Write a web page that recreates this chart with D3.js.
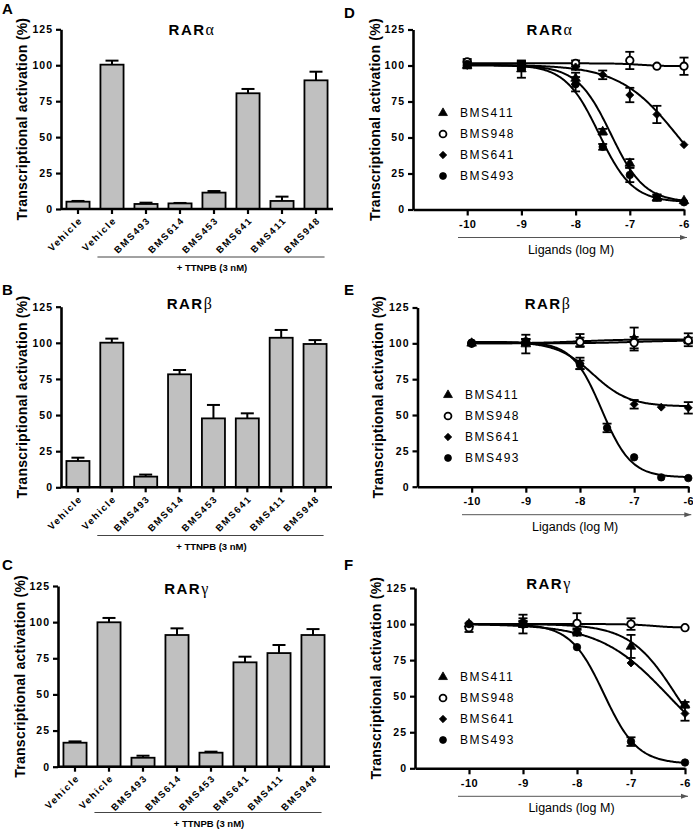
<!DOCTYPE html>
<html>
<head>
<meta charset="utf-8">
<script src="https://cdn.jsdelivr.net/npm/d3@7"></script>
<style>
  html, body { margin: 0; padding: 0; background: #fff; }
  svg { display: block; }
  text { font-family: "Liberation Sans", Arial, sans-serif; }
</style>
</head>
<body>
<svg id="chart" width="693" height="830"></svg>
<script>
// ---------------- DATA ----------------
const barCategories = ["Vehicle", "Vehicle", "BMS493", "BMS614", "BMS453", "BMS641", "BMS411", "BMS948"];
const barRARa    = [5.1, 100.4, 3.5, 3.9, 11.4, 80.5, 5.6, 89.5];
const barRARaErr = [0.5, 2.8, 0.9, 0.3, 1.1, 3.0, 3.0, 6.0];
const barRARb    = [18.2, 100.1, 7.4, 78.2, 47.7, 47.7, 103.5, 99.2];
const barRARbErr = [2.3, 2.8, 1.4, 3.0, 9.3, 3.5, 5.4, 2.7];
const barRARg    = [16.6, 99.9, 6.2, 91.1, 9.7, 72.2, 78.6, 91.1];
const barRARgErr = [0.9, 3.0, 1.4, 4.6, 0.7, 3.9, 5.6, 4.1];
const yTicks = [0, 25, 50, 75, 100, 125];
const treatmentLabel = "+ TTNPB (3 nM)";

const ligands = ["BMS411", "BMS948", "BMS641", "BMS493"];
const xTicksLog = [-10, -9, -8, -7, -6];

// RARα dose response
const doseA = [-10, -9, -8, -7.5, -7, -6.5, -6];
const respA_BMS411 = [100, 97.5, 91, 54, 32, 8, 6];
const errA_BMS411  = [2, 6, 4, 2, 3, 2, 1];
const respA_BMS948 = [102.5, 100.5, 101.5, null, 103.5, 99.5, 99.5];
const errA_BMS948  = [2, 2, 2, null, 6, 1, 6];
const respA_BMS641 = [100, 100, 99, 93.5, 79.5, 66, 45];
const errA_BMS641  = [1, 2, 2, 3, 5, 6, 1];
const respA_BMS493 = [101, 100, 87, 43.5, 24, 8.5, 5];
const errA_BMS493  = [2, 3, 5, 2, 5, 2, 1];

// RARβ dose response
const doseB = [-10, -9, -8, -7.5, -7, -6.5, -6];
const respB_BMS411 = [100, 99.5, 102, null, 103, null, 102.5];
const errB_BMS411  = [1, 6.5, 4.5, null, 8, null, 4.5];
const respB_BMS948 = [100, 101, 101, null, 100.5, null, 102];
const errB_BMS948  = [1, 2, 3, null, 4, null, 2];
const respB_BMS641 = [100, 101, 86, null, 57.5, 55.5, 55];
const errB_BMS641  = [1, 2, 4, null, 3, 1, 4];
const respB_BMS493 = [100.5, 101, 85, 41, 20.5, 6.5, 6];
const errB_BMS493  = [1, 2, 3, 3, 1, 1, 1];

// RARγ dose response
const doseG = [-10, -9, -8, -7, -6];
const respG_BMS411 = [100, 100, 95, 84.5, 44];
const errG_BMS411  = [1, 6.5, 2, 8, 2];
const respG_BMS948 = [97.5, 100, 100.5, 100, 97.5];
const errG_BMS948  = [3, 2, 7, 4, 1];
const respG_BMS641 = [100, 100, 94, 73, 38];
const errG_BMS641  = [1, 2, 2, 1, 5];
const respG_BMS493 = [100, 101, 84, 18.5, 4];
const errG_BMS493  = [1, 3, 1, 3, 1];

// fitted sigmoid parameters: [top, bottom, logIC50, hill]
const fitA = { BMS411: [100, 5, -7.35, 1.4], BMS948: [101.5, 99.5, -6.8, 2], BMS641: [100.5, 0, -6.1, 0.8], BMS493: [100.5, 5, -7.57, 1.4] };
const fitB = { BMS411: [100, 102.8, -8, 1], BMS948: [100, 102, -7, 1], BMS641: [101, 56, -7.76, 1.3], BMS493: [101, 6.5, -7.6, 1.6] };
const fitG = { BMS411: [100, 0, -6.15, 1], BMS948: [100, 97.5, -6.6, 2], BMS641: [100, 0, -6.3, 0.68], BMS493: [100, 3, -7.5, 1.4] };

// ---------------- DRAW ----------------
const svg = d3.select("#chart");
svg.append("rect").attr("width", 693).attr("height", 830).attr("fill", "#fff");

const defs = svg.append("defs");
defs.append("marker").attr("id", "arrow").attr("viewBox", "0 0 10 10")
  .attr("refX", 10).attr("refY", 5).attr("markerWidth", 7).attr("markerHeight", 7)
  .attr("markerUnits", "userSpaceOnUse").attr("orient", "auto")
  .append("path").attr("d", "M0,1.5 L10,5 L0,8.5 Z").attr("fill", "#555");

function panelLetter(t, x, y) {
  svg.append("text").attr("x", x).attr("y", y).text(t)
    .attr("font-size", 15).attr("font-weight", "bold");
}
function title(greek, cx, y) {
  const t = svg.append("text").attr("x", cx).attr("y", y).attr("text-anchor", "middle")
    .attr("font-size", 15).attr("font-weight", "bold").attr("letter-spacing", 1.5);
  t.append("tspan").text("RAR");
  t.append("tspan").text(greek).attr("font-family", "'Liberation Serif', 'DejaVu Serif', serif")
    .attr("font-weight", "normal").attr("font-size", 16);
}
function yTitle(cx, cy) {
  svg.append("text").attr("transform", `translate(${cx},${cy}) rotate(-90)`)
    .attr("text-anchor", "middle").attr("dy", "0.35em")
    .attr("font-size", 14).attr("font-weight", "bold").attr("letter-spacing", 0.25)
    .text("Transcriptional activation (%)");
}
function styleAxis(g) {
  g.select(".domain").attr("stroke", "#000").attr("stroke-width", 2.6);
  g.selectAll(".tick line").attr("stroke", "#000").attr("stroke-width", 2.2);
  g.selectAll(".tick text").attr("font-family", "'Liberation Sans', Arial, sans-serif")
    .attr("font-size", 10.5).attr("font-weight", "bold").attr("letter-spacing", 1).attr("fill", "#000");
}

function barPanel(cfg) {
  const y = d3.scaleLinear().domain([0, 125]).range([cfg.y0, cfg.yTop]);
  const x = d3.scaleBand().domain(d3.range(barCategories.length)).range([cfg.left, cfg.right]).paddingInner(0.32).paddingOuter(0.16);
  const g = svg.append("g");
  g.selectAll("rect.bar").data(cfg.values).enter().append("rect")
    .attr("x", (d, i) => x(i)).attr("width", x.bandwidth())
    .attr("y", d => y(d)).attr("height", d => y(0) - y(d))
    .attr("fill", "#c0c0c0").attr("stroke", "#000").attr("stroke-width", 1.8);
  cfg.values.forEach((v, i) => {
    const cx = x(i) + x.bandwidth() / 2;
    const e = cfg.errs[i];
    g.append("line").attr("x1", cx).attr("x2", cx).attr("y1", y(v)).attr("y2", y(v + e))
      .attr("stroke", "#000").attr("stroke-width", 2);
    g.append("line").attr("x1", cx - 6.5).attr("x2", cx + 6.5).attr("y1", y(v + e)).attr("y2", y(v + e))
      .attr("stroke", "#000").attr("stroke-width", 2);
  });
  const ya = svg.append("g").attr("transform", `translate(${cfg.left},0)`)
    .call(d3.axisLeft(y).tickValues(yTicks).tickSize(5).tickSizeOuter(0).tickPadding(3));
  styleAxis(ya);
  const xa = svg.append("g").attr("transform", `translate(0,${cfg.y0})`)
    .call(d3.axisBottom(x).tickSize(5).tickSizeOuter(0).tickFormat(""));
  styleAxis(xa);
  xa.select(".domain").attr("d", `M${cfg.left},0H${cfg.right}`);
  barCategories.forEach((c, i) => {
    const cx = x(i) + x.bandwidth() / 2;
    svg.append("text").attr("transform", `translate(${cx + 5},${cfg.y0 + 12}) rotate(-45)`)
      .attr("text-anchor", "end").attr("font-size", 9.5).attr("font-weight", "bold")
      .attr("letter-spacing", 1.6).text(c);
  });
  const x1 = x(1) - 3, x2 = x(7) + x.bandwidth() - 3;
  svg.append("line").attr("x1", x1).attr("x2", x2).attr("y1", cfg.lineY).attr("y2", cfg.lineY)
    .attr("stroke", "#444").attr("stroke-width", 1);
  svg.append("text").attr("x", (x1 + x2) / 2 + 1).attr("y", cfg.lineY + 14).attr("text-anchor", "middle")
    .attr("font-size", 9.5).attr("font-weight", "bold").text(treatmentLabel);
  title(cfg.greek, cfg.titleX, cfg.titleY);
  yTitle(cfg.ytx, (cfg.y0 + cfg.yTop) / 2);
  panelLetter(cfg.letter, 2, cfg.letterY);
}

function sym(name, small) {
  const k = small ? 0.85 : 1;
  if (name === "BMS411") return d3.symbol().type(d3.symbolTriangle).size(40 * k)();
  if (name === "BMS641") { const r = 4 * Math.sqrt(k); return `M0,${-r}L${r},0L0,${r}L${-r},0Z`; }
  return d3.symbol().type(d3.symbolCircle).size(44 * k)();
}
function symFill(name) { return name === "BMS948" ? "#fff" : "#000"; }

function logistic(p, v) { return p[1] + (p[0] - p[1]) / (1 + Math.pow(10, (v - p[2]) * p[3])); }

function dosePanel(cfg) {
  const x = d3.scaleLinear().domain([-11, -6]).range([cfg.left, cfg.right]);
  const y = d3.scaleLinear().domain([0, 125]).range([cfg.y0, cfg.yTop]);
  const g = svg.append("g");
  const line = d3.line().x(d => x(d[0])).y(d => y(d[1]));
  const xs = d3.range(-10, -5.999, 0.02);
  ligands.forEach(name => {
    const p = cfg.fits[name];
    g.append("path").datum(xs.map(v => [v, logistic(p, v)])).attr("d", line)
      .attr("fill", "none").attr("stroke", "#000").attr("stroke-width", 2);
  });
  ligands.forEach(name => {
    const vals = cfg.series[name][0], errs = cfg.series[name][1];
    cfg.dose.forEach((dv, i) => {
      const v = vals[i]; if (v == null) return;
      const e = errs[i]; const cx = x(dv);
      if (e > 1.2) {
        g.append("line").attr("x1", cx).attr("x2", cx).attr("y1", y(v - e)).attr("y2", y(v + e)).attr("stroke", "#000").attr("stroke-width", 1.8);
        [v - e, v + e].forEach(w => g.append("line").attr("x1", cx - 4.5).attr("x2", cx + 4.5).attr("y1", y(w)).attr("y2", y(w)).attr("stroke", "#000").attr("stroke-width", 1.8));
      }
    });
  });
  ligands.forEach(name => {
    const vals = cfg.series[name][0];
    cfg.dose.forEach((dv, i) => {
      const v = vals[i]; if (v == null) return;
      g.append("path").attr("d", sym(name)).attr("transform", `translate(${x(dv)},${y(v)})`)
        .attr("fill", symFill(name)).attr("stroke", "#000").attr("stroke-width", name === "BMS948" ? 1.8 : 0.8);
    });
  });
  const ya = svg.append("g").attr("transform", `translate(${cfg.left},0)`)
    .call(d3.axisLeft(y).tickValues(yTicks).tickSize(5).tickSizeOuter(0).tickPadding(3));
  styleAxis(ya);
  const xa = svg.append("g").attr("transform", `translate(0,${cfg.y0})`)
    .call(d3.axisBottom(x).tickValues(xTicksLog).tickSize(6).tickSizeOuter(0).tickPadding(5).tickFormat(d => String(d)));
  styleAxis(xa);
  xa.selectAll(".tick text").attr("font-size", 11).attr("letter-spacing", 0.5);
  svg.append("line").attr("x1", cfg.arrowX1).attr("x2", cfg.right + 3).attr("y1", cfg.y0 + 28).attr("y2", cfg.y0 + 28)
    .attr("stroke", "#555").attr("stroke-width", 1).attr("marker-end", "url(#arrow)");
  svg.append("text").attr("x", (cfg.arrowX1 + cfg.right) / 2).attr("y", cfg.y0 + 44).attr("text-anchor", "middle")
    .attr("font-size", 12.5).text("Ligands (log M)");
  ligands.forEach((name, i) => {
    const ly = cfg.legY + i * 21;
    svg.append("path").attr("d", sym(name, true)).attr("transform", `translate(${cfg.legX},${ly})`)
      .attr("fill", symFill(name)).attr("stroke", "#000").attr("stroke-width", name === "BMS948" ? 1.8 : 0.8);
    svg.append("text").attr("x", cfg.legX + 17).attr("y", ly).attr("dy", "0.36em")
      .attr("font-size", 12).attr("letter-spacing", 1.5).text(name);
  });
  title(cfg.greek, cfg.titleX, cfg.titleY);
  yTitle(cfg.ytx, (cfg.y0 + cfg.yTop) / 2);
  panelLetter(cfg.letter, 344, cfg.letterY);
}

barPanel({ letter: "A", letterY: 14, greek: "α", values: barRARa, errs: barRARaErr,
  left: 61, right: 333, y0: 209, yTop: 29.3, lineY: 257, titleX: 192, titleY: 35, ytx: 22 });
barPanel({ letter: "B", letterY: 295, greek: "β", values: barRARb, errs: barRARbErr,
  left: 61, right: 332, y0: 487.3, yTop: 306.7, lineY: 535.5, titleX: 190, titleY: 309, ytx: 22 });
barPanel({ letter: "C", letterY: 570, greek: "γ", values: barRARg, errs: barRARgErr,
  left: 58, right: 330, y0: 766.7, yTop: 586, lineY: 812.5, titleX: 187, titleY: 594, ytx: 20 });

dosePanel({ letter: "D", letterY: 18, greek: "α", dose: doseA, fits: fitA,
  series: { BMS411: [respA_BMS411, errA_BMS411], BMS948: [respA_BMS948, errA_BMS948], BMS641: [respA_BMS641, errA_BMS641], BMS493: [respA_BMS493, errA_BMS493] },
  left: 413, right: 684, y0: 209.5, yTop: 29.5, arrowX1: 458, legX: 443, legY: 113, titleX: 550, titleY: 35, ytx: 375 });
dosePanel({ letter: "E", letterY: 295, greek: "β", dose: doseB, fits: fitB,
  series: { BMS411: [respB_BMS411, errB_BMS411], BMS948: [respB_BMS948, errB_BMS948], BMS641: [respB_BMS641, errB_BMS641], BMS493: [respB_BMS493, errB_BMS493] },
  left: 417.5, right: 688.3, y0: 486.7, yTop: 307.5, arrowX1: 462, legX: 448, legY: 395, titleX: 548, titleY: 309, ytx: 378 });
dosePanel({ letter: "F", letterY: 570, greek: "γ", dose: doseG, fits: fitG,
  series: { BMS411: [respG_BMS411, errG_BMS411], BMS948: [respG_BMS948, errG_BMS948], BMS641: [respG_BMS641, errG_BMS641], BMS493: [respG_BMS493, errG_BMS493] },
  left: 415, right: 685, y0: 768.3, yTop: 588, arrowX1: 458, legX: 443, legY: 677, titleX: 549, titleY: 589, ytx: 376 });
</script>
</body>
</html>
